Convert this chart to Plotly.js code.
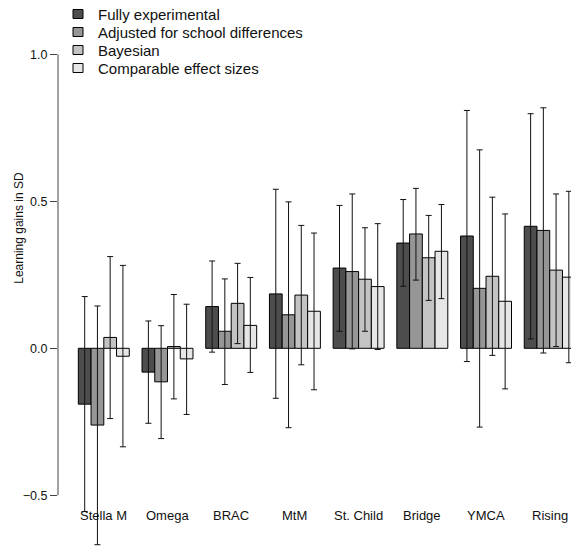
<!DOCTYPE html>
<html>
<head>
<meta charset="utf-8">
<script src="https://cdn.plot.ly/plotly-3.0.1.min.js"></script>
<style>html,body{margin:0;padding:0;overflow:hidden;background:#fff}</style>
</head>
<body>
<div id="chart" style="width:571px;height:546px"></div>
<script>
var categories = ['Stella M','Omega','BRAC','MtM','St. Child','Bridge','YMCA','Rising'];
var seriesNames = ['Fully experimental','Adjusted for school differences','Bayesian','Comparable effect sizes'];

var fullyExperimental      = [-0.190, -0.081, 0.142, 0.185, 0.273, 0.358, 0.382, 0.415];
var fullyExperimentalLow   = [-0.555, -0.255, -0.013, -0.170, 0.058, 0.211, -0.045, 0.032];
var fullyExperimentalHigh  = [0.176, 0.093, 0.297, 0.541, 0.486, 0.506, 0.809, 0.798];

var adjustedSchool         = [-0.261, -0.114, 0.058, 0.114, 0.261, 0.389, 0.204, 0.401];
var adjustedSchoolLow      = [-0.668, -0.307, -0.123, -0.270, -0.002, 0.232, -0.268, -0.016];
var adjustedSchoolHigh     = [0.144, 0.077, 0.236, 0.498, 0.525, 0.544, 0.675, 0.818];

var bayesian               = [0.037, 0.006, 0.153, 0.181, 0.235, 0.308, 0.245, 0.266];
var bayesianLow            = [-0.239, -0.172, 0.016, -0.056, 0.058, 0.163, -0.024, 0.006];
var bayesianHigh           = [0.312, 0.183, 0.289, 0.418, 0.410, 0.452, 0.514, 0.525];

var comparable             = [-0.027, -0.036, 0.078, 0.126, 0.210, 0.330, 0.160, 0.242];
var comparableLow          = [-0.335, -0.225, -0.082, -0.141, -0.004, 0.169, -0.138, -0.049];
var comparableHigh         = [0.282, 0.150, 0.241, 0.392, 0.424, 0.489, 0.457, 0.534];

var yTicks = [-0.5, 0.0, 0.5, 1.0];
var yTickText = ['\u22120.5', '0.0', '0.5', '1.0'];

var fills = ['#4D4D4D', '#969696', '#C3C3C3', '#E6E6E6'];
var seriesVals = [fullyExperimental, adjustedSchool, bayesian, comparable];
var seriesLow = [fullyExperimentalLow, adjustedSchoolLow, bayesianLow, comparableLow];
var seriesHigh = [fullyExperimentalHigh, adjustedSchoolHigh, bayesianHigh, comparableHigh];

var FONT = 'Liberation Sans, Arial, Helvetica, sans-serif';
var W = 571, H = 546, ML = 58;
var PW = W - ML;
function px(x) { return (x - ML) / PW; }
function py(y) { return 1 - y / H; }

var traces = seriesVals.map(function(vals, s) {
  return {
    type: 'bar',
    name: seriesNames[s],
    x: categories,
    y: vals,
    marker: {color: fills[s], line: {color: '#000', width: 1}},
    error_y: {
      type: 'data',
      symmetric: false,
      array: vals.map(function(v, i) { return seriesHigh[s][i] - v; }),
      arrayminus: vals.map(function(v, i) { return v - seriesLow[s][i]; }),
      color: '#111',
      thickness: 1,
      width: 3
    }
  };
});

var annotations = categories.map(function(c) {
  return {
    x: c, y: -0.567, xref: 'x', yref: 'y', text: c, showarrow: false,
    xanchor: 'center', yanchor: 'middle',
    font: {family: FONT, size: 13, color: '#111'}
  };
});
annotations.push({
  x: px(19), y: 0.41, xref: 'paper', yref: 'y', text: 'Learning gains in SD',
  showarrow: false, textangle: -90, xanchor: 'center', yanchor: 'middle',
  font: {family: FONT, size: 12, color: '#111'}
});

// manual legend (key boxes + labels)
var shapes = [{
  type: 'line', xref: 'paper', yref: 'y', x0: 0, x1: 0, y0: -0.5, y1: 1.0,
  line: {color: '#444', width: 1}
}];
seriesNames.forEach(function(name, s) {
  var cy = 14 + 18 * s;
  shapes.push({
    type: 'rect', xref: 'paper', yref: 'paper',
    x0: px(73), x1: px(83), y0: py(cy - 4.5), y1: py(cy + 4.5),
    fillcolor: fills[s], line: {color: '#000', width: 1}
  });
  annotations.push({
    x: px(96), y: py(cy), xref: 'paper', yref: 'paper', text: name,
    showarrow: false, xanchor: 'left', yanchor: 'middle',
    font: {family: FONT, size: 15, color: '#111'}
  });
});

var layout = {
  width: W, height: H,
  margin: {l: ML, r: 0, t: 0, b: 0, pad: 0},
  paper_bgcolor: '#fff', plot_bgcolor: 'rgba(0,0,0,0)',
  barmode: 'group', bargap: 0.2, bargroupgap: 0,
  showlegend: false,
  xaxis: {
    type: 'category', range: [-0.719, 7.334],
    showticklabels: false, showgrid: false, zeroline: false, showline: false, ticks: ''
  },
  yaxis: {
    range: [-0.6724, 1.1847],
    tickvals: yTicks, ticktext: yTickText,
    ticks: 'outside', ticklen: 7, tickcolor: '#444', tickwidth: 1,
    showgrid: false, zeroline: false, showline: false,
    tickfont: {family: FONT, size: 12.5, color: '#111'}
  },
  shapes: shapes,
  annotations: annotations
};

Plotly.newPlot('chart', traces, layout, {staticPlot: true, displayModeBar: false});
</script>
</body>
</html>
